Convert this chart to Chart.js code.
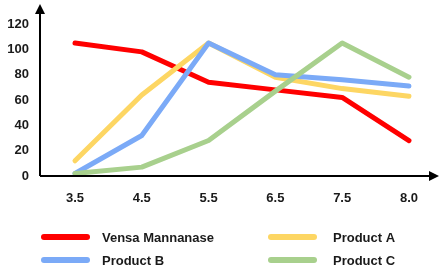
<!DOCTYPE html>
<html>
<head>
<meta charset="utf-8">
<script src="https://cdn.jsdelivr.net/npm/chart.js@4"></script>
<style>
  html, body { margin: 0; padding: 0; background: #fff; }
  #wrap { width: 440px; height: 268px; }
</style>
</head>
<body>
<div id="wrap"><canvas id="c" width="440" height="268"></canvas></div>
<script>
// pH values along the x axis
const phLabels = ['3.5', '4.5', '5.5', '6.5', '7.5', '8.0'];
const yTicks = [0, 20, 40, 60, 80, 100, 120];

const vensa = [105, 98, 74, 68, 62, 28];
const productA = [12, 64, 105, 78, 69, 63];
const productB = [2, 32, 105, 80, 76, 71];
const productC = [2, 7, 28, 67, 105, 78];

const FONT = '"Liberation Sans", Arial, sans-serif';

function pts(arr) {
  return arr.map((v, i) => ({ x: i, y: v }));
}

// axis lines with arrow heads
const axesPlugin = {
  id: 'arrowAxes',
  afterDatasetsDraw(chart) {
    const { ctx, chartArea } = chart;
    const l = chartArea.left, b = chartArea.bottom;
    ctx.save();
    ctx.strokeStyle = '#000';
    ctx.fillStyle = '#000';
    ctx.lineWidth = 2;
    ctx.beginPath();
    ctx.moveTo(l, b);
    ctx.lineTo(l, chartArea.top - 12);
    ctx.moveTo(l, b);
    ctx.lineTo(chartArea.right - 2, b);
    ctx.stroke();
    // up arrow
    ctx.beginPath();
    ctx.moveTo(l, chartArea.top - 20);
    ctx.lineTo(l - 5, chartArea.top - 10);
    ctx.lineTo(l + 5, chartArea.top - 10);
    ctx.closePath();
    ctx.fill();
    // right arrow
    ctx.beginPath();
    ctx.moveTo(chartArea.right + 6, b);
    ctx.lineTo(chartArea.right - 4, b - 5);
    ctx.lineTo(chartArea.right - 4, b + 5);
    ctx.closePath();
    ctx.fill();
    ctx.restore();
  }
};

// two-column legend under the chart
const legendPlugin = {
  id: 'gridLegend',
  afterDraw(chart) {
    const { ctx } = chart;
    const cols = [41, 268];
    const rows = [237, 260];
    ctx.save();
    ctx.font = 'bold 13px ' + FONT;
    ctx.textBaseline = 'middle';
    ctx.lineCap = 'round';
    chart.data.datasets.forEach((ds, i) => {
      const x = cols[i % 2], y = rows[Math.floor(i / 2)];
      ctx.strokeStyle = ds.borderColor;
      ctx.lineWidth = 6;
      ctx.beginPath();
      ctx.moveTo(x + 3, y);
      ctx.lineTo(x + 46, y);
      ctx.stroke();
      ctx.fillStyle = '#1a1a1a';
      ctx.fillText(ds.label, x + 61 + (i % 2 ? 4 : 0), y + 1);
    });
    ctx.restore();
  }
};

new Chart(document.getElementById('c'), {
  type: 'line',
  data: {
    datasets: [
      { label: 'Vensa Mannanase', data: pts(vensa), borderColor: '#ff0000', order: 3 },
      { label: 'Product A', data: pts(productA), borderColor: '#fdd663', order: 2 },
      { label: 'Product B', data: pts(productB), borderColor: '#7baaf7', order: 1 },
      { label: 'Product C', data: pts(productC), borderColor: '#a8d08d', order: 0 }
    ]
  },
  options: {
    responsive: false,
    animation: false,
    layout: { padding: { top: 24, right: 7, bottom: 60, left: 0 } },
    elements: {
      line: { borderWidth: 5, tension: 0, borderCapStyle: 'round', borderJoinStyle: 'round', fill: false },
      point: { radius: 0 }
    },
    plugins: {
      legend: { display: false },
      tooltip: { enabled: false }
    },
    scales: {
      x: {
        type: 'linear',
        min: -0.524,
        max: 5.36,
        grid: { display: false, drawTicks: false },
        border: { display: false },
        afterBuildTicks: s => { s.ticks = phLabels.map((_, i) => ({ value: i })); },
        afterFit: s => { s.height = 32; },
        ticks: {
          padding: 15,
          color: '#1a1a1a',
          font: { family: FONT, size: 13, weight: 'bold' },
          callback: v => phLabels[v]
        }
      },
      y: {
        min: 0,
        max: 120,
        grid: { display: false, drawTicks: false },
        border: { display: false },
        afterBuildTicks: s => { s.ticks = yTicks.map(v => ({ value: v })); },
        afterFit: s => { s.width = 40; },
        ticks: {
          padding: 11,
          color: '#1a1a1a',
          font: { family: FONT, size: 13, weight: 'bold' }
        }
      }
    }
  },
  plugins: [axesPlugin, legendPlugin]
});
</script>
</body>
</html>
